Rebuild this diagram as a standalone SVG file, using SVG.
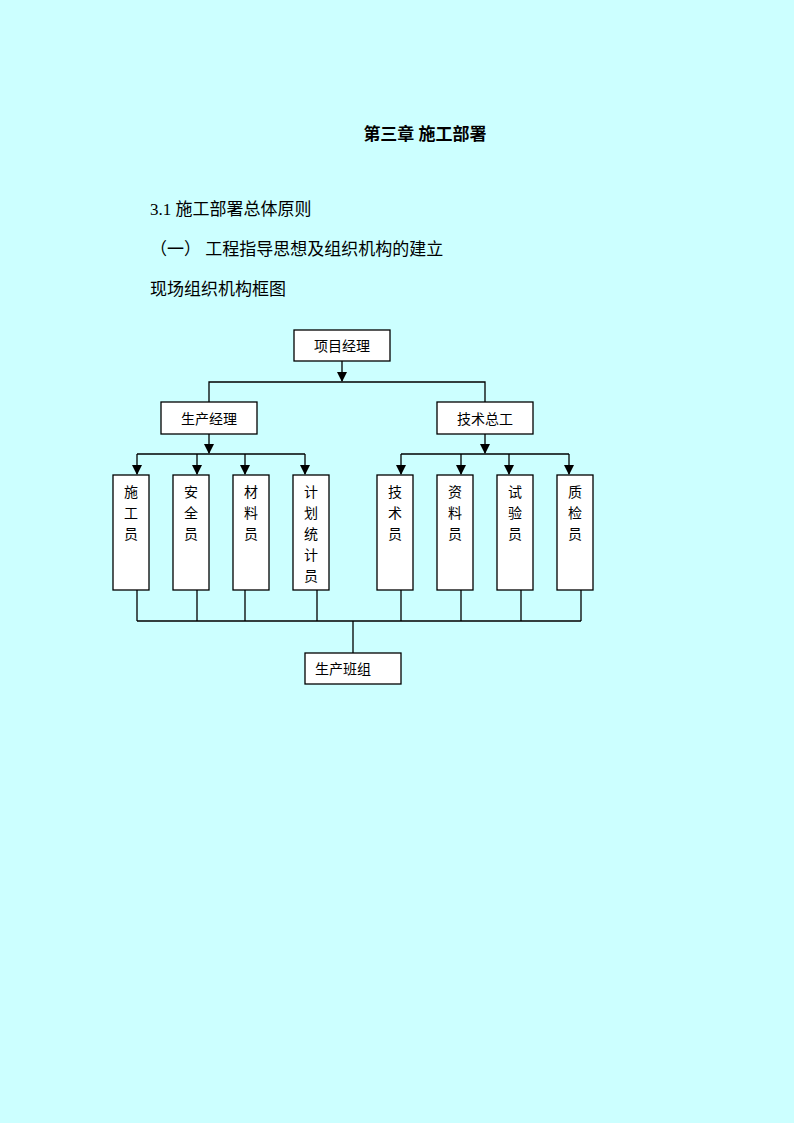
<svg xmlns="http://www.w3.org/2000/svg" width="794" height="1123" viewBox="0 0 794 1123">
<style>
.b{fill:#fff;stroke:#000;stroke-width:1.3}
.t{font-family:"Liberation Sans","Noto Sans CJK SC",sans-serif;font-size:14px;fill:#000}
.c{stroke:#000;stroke-width:1.3;fill:none}
.h{font-family:"Liberation Serif","Noto Sans CJK SC",serif;font-size:17px;fill:#000}
</style>
<defs><marker id="a" markerWidth="10" markerHeight="10" refX="9" refY="5" orient="auto" markerUnits="userSpaceOnUse"><path d="M0,0 L10,5 L0,10 z" fill="#000"/></marker></defs>
<rect width="794" height="1123" fill="#ccffff"/>
<text x="425" y="140" class="h" text-anchor="middle" font-weight="bold">第三章 施工部署</text>
<text x="150" y="215" class="h">3.1 施工部署总体原则</text>
<text x="150" y="255" class="h">（一） 工程指导思想及组织机构的建立</text>
<text x="150" y="295" class="h">现场组织机构框图</text>
<g id="connectors" class="c">
<line x1="342" y1="361" x2="342" y2="381" marker-end="url(#a)"/>
<polyline points="209,402 209,382 485,382 485,402"/>
<line x1="209" y1="434" x2="209" y2="453" marker-end="url(#a)"/>
<line x1="485" y1="434" x2="485" y2="453" marker-end="url(#a)"/>
<line x1="137" y1="454" x2="305" y2="454"/>
<line x1="401" y1="454" x2="569" y2="454"/>
<line x1="137" y1="454" x2="137" y2="474" marker-end="url(#a)"/>
<line x1="197" y1="454" x2="197" y2="474" marker-end="url(#a)"/>
<line x1="245" y1="454" x2="245" y2="474" marker-end="url(#a)"/>
<line x1="305" y1="454" x2="305" y2="474" marker-end="url(#a)"/>
<line x1="401" y1="454" x2="401" y2="474" marker-end="url(#a)"/>
<line x1="461" y1="454" x2="461" y2="474" marker-end="url(#a)"/>
<line x1="509" y1="454" x2="509" y2="474" marker-end="url(#a)"/>
<line x1="569" y1="454" x2="569" y2="474" marker-end="url(#a)"/>
<path d="M137,590V621M197,590V621M245,590V621M317,590V621M401,590V621M461,590V621M521,590V621M581,590V621M137,621H581M353,621V653"/>
</g>
<g id="n1"><rect class="b" x="294" y="330" width="96" height="31"/><text class="t" x="342" y="351" text-anchor="middle">项目经理</text></g>
<g id="n2"><rect class="b" x="161" y="402" width="96" height="32"/><text class="t" x="209" y="424" text-anchor="middle">生产经理</text></g>
<g id="n3"><rect class="b" x="437" y="402" width="96" height="32"/><text class="t" x="485" y="424" text-anchor="middle">技术总工</text></g>
<g id="n4"><rect class="b" x="113" y="475" width="36" height="115"/><text class="t" x="131" y="497" text-anchor="middle"><tspan x="131">施</tspan><tspan x="131" dy="21">工</tspan><tspan x="131" dy="21">员</tspan></text></g>
<g id="n5"><rect class="b" x="173" y="475" width="36" height="115"/><text class="t" x="191" y="497" text-anchor="middle"><tspan x="191">安</tspan><tspan x="191" dy="21">全</tspan><tspan x="191" dy="21">员</tspan></text></g>
<g id="n6"><rect class="b" x="233" y="475" width="36" height="115"/><text class="t" x="251" y="497" text-anchor="middle"><tspan x="251">材</tspan><tspan x="251" dy="21">料</tspan><tspan x="251" dy="21">员</tspan></text></g>
<g id="n7"><rect class="b" x="293" y="475" width="36" height="115"/><text class="t" x="311" y="497" text-anchor="middle"><tspan x="311">计</tspan><tspan x="311" dy="21">划</tspan><tspan x="311" dy="21">统</tspan><tspan x="311" dy="21">计</tspan><tspan x="311" dy="21">员</tspan></text></g>
<g id="n8"><rect class="b" x="377" y="475" width="36" height="115"/><text class="t" x="395" y="497" text-anchor="middle"><tspan x="395">技</tspan><tspan x="395" dy="21">术</tspan><tspan x="395" dy="21">员</tspan></text></g>
<g id="n9"><rect class="b" x="437" y="475" width="36" height="115"/><text class="t" x="455" y="497" text-anchor="middle"><tspan x="455">资</tspan><tspan x="455" dy="21">料</tspan><tspan x="455" dy="21">员</tspan></text></g>
<g id="n10"><rect class="b" x="497" y="475" width="36" height="115"/><text class="t" x="515" y="497" text-anchor="middle"><tspan x="515">试</tspan><tspan x="515" dy="21">验</tspan><tspan x="515" dy="21">员</tspan></text></g>
<g id="n11"><rect class="b" x="557" y="475" width="36" height="115"/><text class="t" x="575" y="497" text-anchor="middle"><tspan x="575">质</tspan><tspan x="575" dy="21">检</tspan><tspan x="575" dy="21">员</tspan></text></g>
<g id="n12"><rect class="b" x="305" y="653" width="96" height="31"/><text class="t" x="343" y="674" text-anchor="middle">生产班组</text></g>
</svg>
